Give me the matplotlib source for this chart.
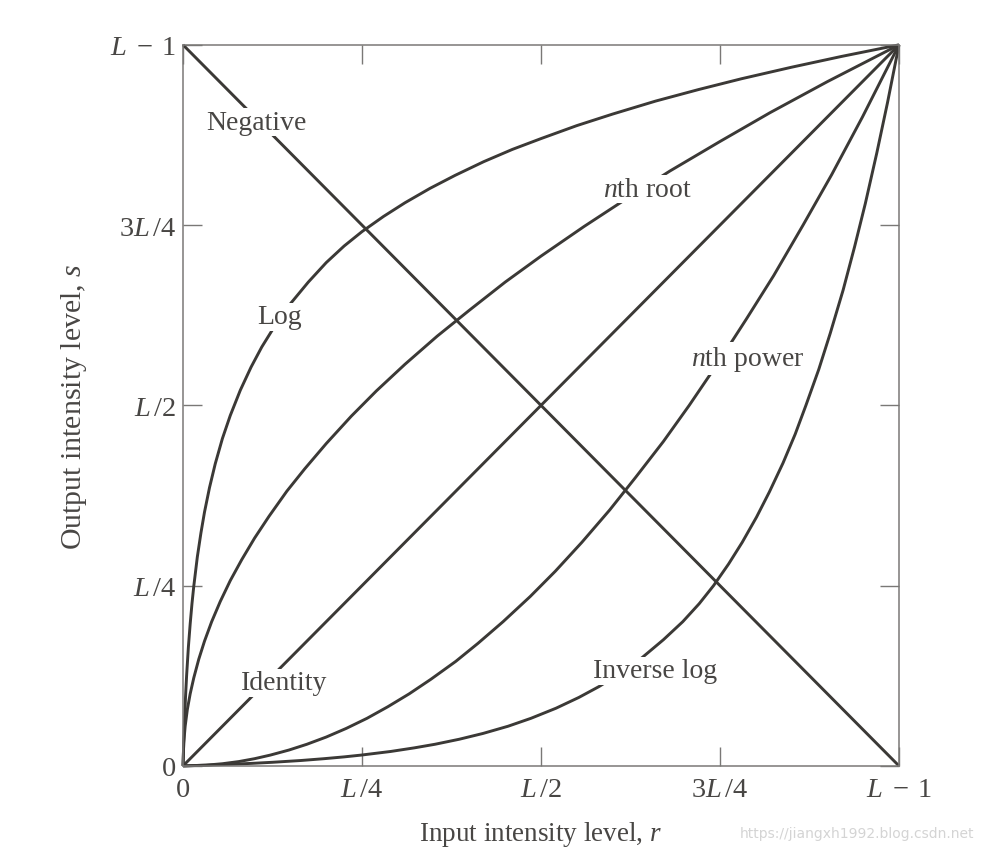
import matplotlib
matplotlib.use("Agg")
import matplotlib.pyplot as plt

plt.rcParams.update({
    "font.family": "Liberation Serif",
    "mathtext.fontset": "custom",
    "mathtext.rm": "Liberation Serif",
    "mathtext.it": "Liberation Serif:italic",
    "font.size": 19,
})

# ── Data (fractions of L-1) ──────────────────────────────────────────────────
identity_x = [0.0, 1.0]
identity_y = [0.0, 1.0]

negative_x = [0.0, 1.0]
negative_y = [1.0, 0.0]

log_x = [0.0, 0.001, 0.002, 0.0035, 0.005, 0.0075, 0.01, 0.0125, 0.015, 0.02,
         0.025, 0.03, 0.037, 0.045, 0.055, 0.066, 0.08, 0.095, 0.11, 0.13,
         0.15, 0.175, 0.2, 0.225, 0.25, 0.28, 0.31, 0.345, 0.38, 0.42,
         0.46, 0.5, 0.55, 0.6, 0.66, 0.72, 0.78, 0.85, 0.92, 1.0]
log_y = [0.0, 0.033, 0.061, 0.096, 0.125, 0.165, 0.197, 0.225, 0.249, 0.290,
         0.323, 0.352, 0.386, 0.419, 0.454, 0.486, 0.521, 0.553, 0.581, 0.613,
         0.641, 0.671, 0.698, 0.721, 0.741, 0.762, 0.781, 0.801, 0.819, 0.838,
         0.855, 0.870, 0.888, 0.904, 0.922, 0.938, 0.953, 0.969, 0.984, 1.0]

invlog_x = [0.0, 0.033, 0.061, 0.096, 0.125, 0.165, 0.197, 0.225, 0.249, 0.290,
            0.323, 0.352, 0.386, 0.419, 0.454, 0.486, 0.521, 0.553, 0.581, 0.613,
            0.641, 0.671, 0.698, 0.721, 0.741, 0.762, 0.781, 0.801, 0.819, 0.838,
            0.855, 0.870, 0.888, 0.904, 0.922, 0.938, 0.953, 0.969, 0.984, 1.0]
invlog_y = [0.0, 0.001, 0.002, 0.0035, 0.005, 0.0075, 0.01, 0.0125, 0.015, 0.02,
            0.025, 0.03, 0.037, 0.045, 0.055, 0.066, 0.08, 0.095, 0.11, 0.13,
            0.15, 0.175, 0.2, 0.225, 0.25, 0.28, 0.31, 0.345, 0.38, 0.42,
            0.46, 0.5, 0.55, 0.6, 0.66, 0.72, 0.78, 0.85, 0.92, 1.0]

root_x = [0.0, 0.001, 0.003, 0.006, 0.01, 0.015, 0.022, 0.03, 0.04, 0.052,
          0.066, 0.082, 0.1, 0.12, 0.145, 0.17, 0.2, 0.235, 0.27, 0.31,
          0.355, 0.4, 0.45, 0.5, 0.56, 0.62, 0.68, 0.75, 0.82, 0.9, 1.0]
root_y = [0.0, 0.032, 0.055, 0.078, 0.100, 0.122, 0.148, 0.173, 0.200, 0.228,
          0.257, 0.286, 0.316, 0.346, 0.381, 0.412, 0.447, 0.485, 0.520, 0.557,
          0.596, 0.632, 0.671, 0.707, 0.748, 0.787, 0.825, 0.866, 0.906, 0.949, 1.0]

power_x = [0.0, 0.032, 0.055, 0.078, 0.100, 0.122, 0.148, 0.173, 0.200, 0.228,
           0.257, 0.286, 0.316, 0.346, 0.381, 0.412, 0.447, 0.485, 0.520, 0.557,
           0.596, 0.632, 0.671, 0.707, 0.748, 0.787, 0.825, 0.866, 0.906, 0.949, 1.0]
power_y = [0.0, 0.001, 0.003, 0.006, 0.01, 0.015, 0.022, 0.03, 0.04, 0.052,
           0.066, 0.082, 0.1, 0.12, 0.145, 0.17, 0.2, 0.235, 0.27, 0.31,
           0.355, 0.4, 0.45, 0.5, 0.56, 0.62, 0.68, 0.75, 0.82, 0.9, 1.0]

tick_pos = [0.0, 0.25, 0.5, 0.75, 1.0]
tick_labels = ["0", r"$L\,/4$", r"$L\,/2$", r"$3L\,/4$", r"$L\;-\;1$"]

curve_labels = ["Negative", "Log", r"$n$th root", r"$n$th power", "Identity", "Inverse log"]
label_x = [0.103, 0.135, 0.648, 0.788, 0.141, 0.659]
label_y = [0.893, 0.623, 0.800, 0.565, 0.115, 0.132]

LINE = "#3b3936"
TEXT = "#484644"
SPINE = "#7a7876"

fig = plt.figure(figsize=(9.84, 8.54), dpi=100)
ax = fig.add_axes([0.186, 0.102, 0.7276, 0.8443])

for xs, ys in [(identity_x, identity_y), (negative_x, negative_y),
               (log_x, log_y), (invlog_x, invlog_y),
               (root_x, root_y), (power_x, power_y)]:
    ax.plot(xs, ys, color=LINE, lw=2.1, clip_on=False,
            solid_capstyle="butt", solid_joinstyle="round")

for lab, lx, ly in zip(curve_labels, label_x, label_y):
    ax.text(lx, ly, lab, ha="center", va="center", color=TEXT, fontsize=20,
            bbox=dict(facecolor="white", edgecolor="none", pad=1.2))

ax.set_xlim(0, 1)
ax.set_ylim(0, 1)
ax.set_xticks(tick_pos)
ax.set_xticklabels(tick_labels)
ax.set_yticks(tick_pos)
ax.set_yticklabels(tick_labels)
ax.tick_params(direction="in", length=14, width=1.0, color=SPINE,
               top=True, right=True, labelsize=20.5, labelcolor=TEXT)
ax.tick_params(axis="y", pad=5)
ax.tick_params(axis="x", pad=8)
for s in ax.spines.values():
    s.set_color(SPINE)
    s.set_linewidth(1.1)

ax.set_xlabel(r"Input intensity level, $r$", color=TEXT, fontsize=19.5, labelpad=12)
ax.set_ylabel(r"Output intensity level, $s$", color=TEXT, fontsize=21.5, labelpad=15)

fig.text(0.99, 0.024, "https://jiangxh1992.blog.csdn.net", ha="right", va="center",
         color="#d4d4d4", fontsize=10, family="DejaVu Sans")

fig.savefig("out.png", dpi=100)
